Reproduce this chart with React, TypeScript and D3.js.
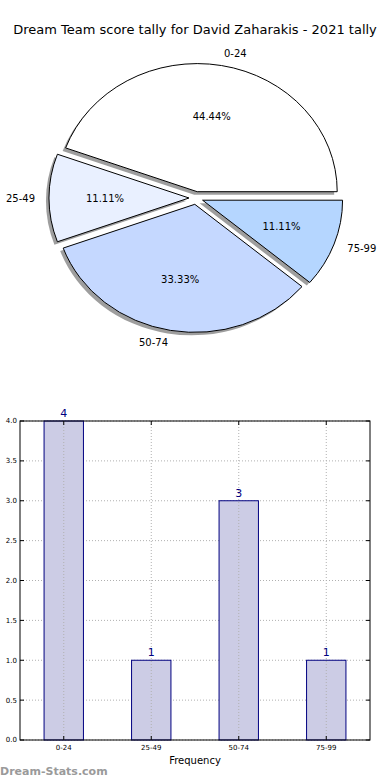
import React from 'react';
import * as d3 from 'd3';

const title = 'Dream Team score tally for David Zaharakis - 2021 tally';
const categories = ['0-24', '25-49', '50-74', '75-99'];
const counts = [4, 1, 3, 1];
const sliceColors = ['#ffffff', '#e9f0ff', '#c5d8ff', '#b5d6ff'];
const yTicks = [0, 0.5, 1, 1.5, 2, 2.5, 3, 3.5, 4];

const FONT = 'DejaVu Sans, sans-serif';

function PieChart() {
  const cx = 196;
  const cy = 198;
  const rx = 140;
  const ry = 128;
  const explode = 0.05;
  const total = d3.sum(counts);

  // counter-clockwise from 3 o'clock, like matplotlib
  const pie = d3
    .pie<number>()
    .value((d) => d)
    .sort(null)
    .startAngle(Math.PI / 2)
    .endAngle(Math.PI / 2 - 2 * Math.PI);
  const arcs = pie(counts);
  const arc = d3.arc<d3.PieArcDatum<number>>().innerRadius(0).outerRadius(1);

  const pt = (a: number, k: number) => [Math.sin(a) * k, -Math.cos(a) * k];

  return (
    <g>
      {arcs.map((d, i) => {
        const mid = (d.startAngle + d.endAngle) / 2;
        const [ex, ey] = pt(mid, explode);
        const ox = cx + ex * rx;
        const oy = cy + ey * ry;
        return (
          <g key={'s' + i}>
            <g transform={`translate(${ox - 3},${oy + 3}) scale(${rx},${ry})`}>
              <path d={arc(d) || ''} fill="#000" fillOpacity={0.38} />
            </g>
            <g transform={`translate(${ox},${oy}) scale(${rx},${ry})`}>
              <path
                d={arc(d) || ''}
                fill={sliceColors[i]}
                stroke="#000"
                strokeWidth={1}
                vectorEffect="non-scaling-stroke"
              />
            </g>
          </g>
        );
      })}
      {arcs.map((d, i) => {
        const mid = (d.startAngle + d.endAngle) / 2;
        const [ex, ey] = pt(mid, explode);
        const ox = cx + ex * rx;
        const oy = cy + ey * ry;
        const [lx, ly] = pt(mid, 1.1);
        const [px, py] = pt(mid, 0.6);
        return (
          <g key={'l' + i} fontFamily={FONT} fontSize={10} fill="#000">
            <text
              x={ox + lx * rx}
              y={oy + ly * ry}
              dy="0.35em"
              textAnchor={lx > 0 ? 'start' : 'end'}
            >
              {categories[i]}
            </text>
            <text x={ox + px * rx} y={oy + py * ry} dy="0.35em" textAnchor="middle">
              {((counts[i] / total) * 100).toFixed(2)}%
            </text>
          </g>
        );
      })}
    </g>
  );
}

function BarChart() {
  const left = 20;
  const right = 370;
  const top = 421;
  const bottom = 740;
  const step = (right - left) / categories.length;
  const x = d3
    .scaleLinear()
    .domain([-0.5, categories.length - 0.5])
    .range([left, right]);
  const y = d3.scaleLinear().domain([0, 4]).range([bottom, top]);
  const bw = step * 0.45;

  return (
    <g fontFamily={FONT}>
      {yTicks.map((t) => (
        <line
          key={'gy' + t}
          x1={left}
          x2={right}
          y1={y(t)}
          y2={y(t)}
          stroke="#b0b0b0"
          strokeDasharray="1,2"
        />
      ))}
      {counts.map((v, i) => (
        <rect
          key={'b' + i}
          x={x(i) - bw / 2}
          y={y(v)}
          width={bw}
          height={y(0) - y(v)}
          fill="#ccccE5"
          stroke="#000080"
          strokeWidth={1}
        />
      ))}
      {categories.map((c, i) => (
        <line
          key={'gx' + i}
          x1={x(i)}
          x2={x(i)}
          y1={top}
          y2={bottom}
          stroke="#b0b0b0"
          strokeDasharray="1,2"
        />
      ))}
      {counts.map((v, i) => (
        <text
          key={'v' + i}
          x={x(i)}
          y={y(v) - 4}
          textAnchor="middle"
          fontSize={11}
          fill="#000080"
        >
          {v}
        </text>
      ))}
      <rect x={left} y={top} width={right - left} height={bottom - top} fill="none" stroke="#000" />
      {yTicks.map((t) => (
        <g key={'ty' + t}>
          <line x1={left} x2={left + 4} y1={y(t)} y2={y(t)} stroke="#000" />
          <line x1={right} x2={right - 4} y1={y(t)} y2={y(t)} stroke="#000" />
          <text x={left - 3} y={y(t)} dy="0.35em" textAnchor="end" fontSize={7} fill="#000">
            {t.toFixed(1)}
          </text>
        </g>
      ))}
      {categories.map((c, i) => (
        <g key={'tx' + i}>
          <line x1={x(i)} x2={x(i)} y1={bottom} y2={bottom - 4} stroke="#000" />
          <line x1={x(i)} x2={x(i)} y1={top} y2={top + 4} stroke="#000" />
          <text x={x(i)} y={bottom + 10} textAnchor="middle" fontSize={7} fill="#000">
            {c}
          </text>
        </g>
      ))}
      <text x={(left + right) / 2} y={764} textAnchor="middle" fontSize={10} fill="#000">
        Frequency
      </text>
    </g>
  );
}

export default function App() {
  return (
    <svg
      width={390}
      height={780}
      style={{ position: 'absolute', left: 0, top: 0, background: '#fff' }}
    >
      <text x={195} y={34} textAnchor="middle" fontFamily={FONT} fontSize={13} fill="#000">
        {title}
      </text>
      <PieChart />
      <BarChart />
      <text x={0} y={775} fontFamily={FONT} fontSize={11} fill="#9a9a9a" fontWeight="bold">
        Dream-Stats.com
      </text>
    </svg>
  );
}
